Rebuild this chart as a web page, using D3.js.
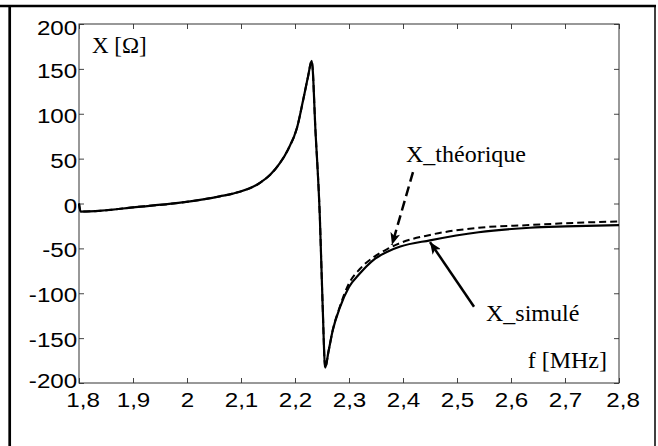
<!DOCTYPE html>
<html>
<head>
<meta charset="utf-8">
<script src="https://cdn.jsdelivr.net/npm/d3@7"></script>
<style>
  body { margin: 0; background: #fff; }
  .tick text { font-family: 'Liberation Sans', Arial, sans-serif; font-size: 20.5px; fill: #000; }
  .lbl { font-family: 'Liberation Serif', 'Times New Roman', serif; font-size: 24px; fill: #000; }
</style>
</head>
<body>
<script>
// frequency (MHz) and reactance (Ohm)
const freq = [1.8, 1.803, 1.842, 1.905, 1.967, 2.024, 2.061, 2.085, 2.135, 2.154, 2.172, 2.187,
  2.204, 2.215, 2.224, 2.231, 2.238, 2.246, 2.251, 2.256, 2.262, 2.27, 2.283, 2.30, 2.32,
  2.345, 2.37, 2.395, 2.45, 2.54, 2.635, 2.70, 2.80]
const xSimule = [0, -9, -8, -4, -0.5, 4, 8, 11, 23, 32, 45, 60,
  85, 115, 141, 159, 80, -15, -110, -183, -165, -141, -116, -93, -78,
  -63, -54, -48, -41, -32, -27, -25.5, -24]
const xTheorique = [0, -9, -8, -4, -0.5, 4, 8, 11, 23, 32, 45, 60,
  85, 115, 141, 159, 80, -15, -110, -183, -165, -141, -115, -89, -73,
  -60, -51, -44, -35, -27, -24, -22, -20]
const xTicks = [1.8, 1.9, 2, 2.1, 2.2, 2.3, 2.4, 2.5, 2.6, 2.7, 2.8]
const yTicks = [200, 150, 100, 50, 0, -50, -100, -150, -200]

const W = 658, H = 446
const margin = { top: 24, right: 39, bottom: 63, left: 79 }
const width = W - margin.left - margin.right
const height = H - margin.top - margin.bottom

const root = d3.select('body').append('svg')
  .attr('width', W)
  .attr('height', H)

// outer frame
root.append('line').attr('x1', 0).attr('x2', 656).attr('y1', 6).attr('y2', 6)
  .attr('stroke', '#000').attr('stroke-width', 2.5)
root.append('line').attr('x1', 9.7).attr('x2', 9.7).attr('y1', 5).attr('y2', H)
  .attr('stroke', '#000').attr('stroke-width', 2.7)
root.append('line').attr('x1', 655).attr('x2', 655).attr('y1', 5).attr('y2', H)
  .attr('stroke', '#000').attr('stroke-width', 1.5)

const svg = root.append('g')
  .attr('transform', `translate(${margin.left}, ${margin.top})`)

const x = d3.scaleLinear().domain([1.8, 2.8]).range([0, width])
const y = d3.scaleLinear().domain([-200, 200]).range([height, 0])
const fmt = d => String(d).replace('.', ',')

const axisStyle = g => {
  g.select('.domain').remove()
  g.selectAll('.tick line').attr('stroke', '#444').attr('stroke-width', 1)
}

svg.append('g')
  .attr('transform', `translate(0, ${height})`)
  .call(d3.axisBottom(x).tickValues(xTicks).tickFormat(fmt).tickSize(-5).tickPadding(9))
  .call(axisStyle)
  .call(g => g.selectAll('.tick text')
    .attr('transform', 'scale(1.18,1)')
    .attr('dx', d => (d === 1.8 || d === 2.8) ? 3 : 0))

svg.append('g')
  .call(d3.axisTop(x).tickValues(xTicks).tickFormat('').tickSize(-5))
  .call(axisStyle)

svg.append('g')
  .call(d3.axisLeft(y).tickValues(yTicks).tickFormat(d => String(d)).tickSize(-5).tickPadding(1.5))
  .call(axisStyle)
  .call(g => g.selectAll('.tick text')
    .attr('dy', d => d === 200 ? '0.52em' : d === -200 ? '0.2em' : '0.42em')
    .attr('transform', 'scale(1.18,1)'))

svg.append('g')
  .attr('transform', `translate(${width}, 0)`)
  .call(d3.axisRight(y).tickValues(yTicks).tickFormat('').tickSize(-5))
  .call(axisStyle)

// plot box
svg.append('rect')
  .attr('width', width).attr('height', height)
  .attr('fill', 'none').attr('stroke', '#333').attr('stroke-width', 1)

const line = vals => d3.line()
  .x((d, i) => x(freq[i]))
  .y(d => y(d))
  .curve(d3.curveMonotoneX)(vals)

svg.append('path')
  .attr('d', line(xSimule))
  .attr('fill', 'none').attr('stroke', '#000').attr('stroke-width', 2.2)

svg.append('path')
  .attr('d', line(xTheorique))
  .attr('fill', 'none').attr('stroke', '#000').attr('stroke-width', 2)
  .attr('stroke-dasharray', '7,4')

// annotations
const defs = root.append('defs')
defs.append('marker')
  .attr('id', 'head')
  .attr('viewBox', '0 0 12 10')
  .attr('refX', 12).attr('refY', 5)
  .attr('markerWidth', 12).attr('markerHeight', 10)
  .attr('markerUnits', 'userSpaceOnUse')
  .attr('orient', 'auto')
  .append('path').attr('d', 'M0,0 L12,5 L0,10 L3,5 Z').attr('fill', '#000')

svg.append('line')
  .attr('x1', x(2.4185)).attr('y1', y(35))
  .attr('x2', x(2.3796)).attr('y2', y(-46))
  .attr('stroke', '#000').attr('stroke-width', 2.5)
  .attr('stroke-dasharray', '10,5')
  .attr('marker-end', 'url(#head)')

svg.append('line')
  .attr('x1', x(2.5315)).attr('y1', y(-115))
  .attr('x2', x(2.45)).attr('y2', y(-43))
  .attr('stroke', '#000').attr('stroke-width', 2.5)
  .attr('marker-end', 'url(#head)')

svg.append('text').attr('class', 'lbl')
  .attr('x', x(1.824)).attr('y', y(168)).style('font-size', '23px')
  .text('X [Ω]')

svg.append('text').attr('class', 'lbl')
  .attr('x', x(2.4056)).attr('y', y(46))
  .text('X_théorique')

svg.append('text').attr('class', 'lbl')
  .attr('x', x(2.5537)).attr('y', y(-131))
  .text('X_simulé')

svg.append('text').attr('class', 'lbl')
  .attr('x', x(2.7778)).attr('y', y(-183))
  .attr('text-anchor', 'end')
  .text('f [MHz]')
</script>
</body>
</html>
